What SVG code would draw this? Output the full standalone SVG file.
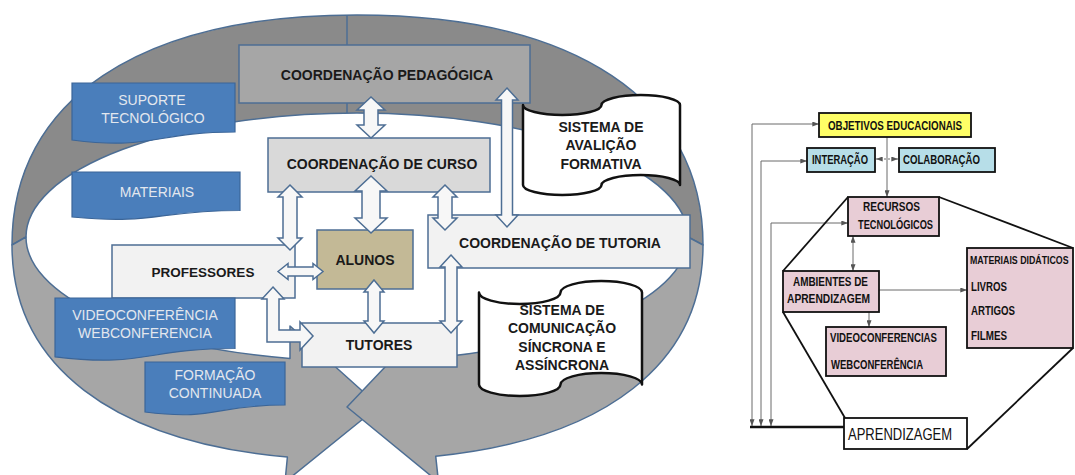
<svg xmlns="http://www.w3.org/2000/svg" width="1075" height="475" viewBox="0 0 1075 475">
<defs>
<style>
.band{stroke:#4d6e94;stroke-width:1.5;stroke-linejoin:round}
.dark{fill:#8a8a8a}
.light{fill:#a6a6a6}
.box{stroke:#4d6e94;stroke-width:1.5}
.blue{fill:#4a7ebb;stroke:#3b6598;stroke-width:1.2}
.doc{fill:#fff;stroke:#111;stroke-width:2.5;stroke-linejoin:round}
.blk{fill:#f7f7f7;stroke:#4d6e94;stroke-width:1.5}
.t{font-family:"Liberation Sans",Arial,sans-serif;font-weight:bold;font-size:14px;fill:#1a1a1a;text-anchor:middle}
.tb{font-family:"Liberation Sans",Arial,sans-serif;font-size:14px;fill:#e3e7ee;text-anchor:middle}
.r{font-family:"Liberation Sans",Arial,sans-serif;font-weight:bold;font-size:12px;fill:#111}
.rbox{stroke:#111;stroke-width:1.8}
.pink{fill:#e8cdd6}
.ln{fill:none;stroke:#6a6a6a;stroke-width:1}
.oct{fill:none;stroke:#111;stroke-width:1.8}
</style>
<marker id="ah" viewBox="0 0 8 6" refX="8" refY="3" markerWidth="7" markerHeight="5" markerUnits="userSpaceOnUse" orient="auto-start-reverse"><path d="M0,0 L8,3 L0,6 z" fill="#555"/></marker>
</defs>
<rect width="1075" height="475" fill="#fff"/>

<!-- Left diagram: cycle arrows -->
<g id="cycle">
<path class="band dark" d="M12,245 C12,100 139.6,15 357,15 C575,15 703,100 703,245 L688,237 A331,124 0 0 0 357,113 A331,124 0 0 0 26,237 Z"/>
<path class="band light" d="M12,245 C12,365.3 112.6,441.5 287.4,457 L285,482 L379,406 L290,326 L290,358.4 A331,124 0 0 1 26,237 Z"/>
<path class="band light" d="M703,245 C703,363.3 605.5,438.9 435.7,456.2 L438.5,482 L347,407 L424,326 L424,358.4 A331,124 0 0 0 688,237 Z"/>
<line x1="347" y1="15" x2="347" y2="113" stroke="#4d6e94" stroke-width="1.5"/>
</g>

<g id="coord-pedagogica">
<rect class="box" x="239" y="45" width="291" height="58" fill="#a6a6a6"/>
<text class="t" x="387" y="80">COORDENAÇÃO PEDAGÓGICA</text>
</g>
<g id="coord-curso">
<rect class="box" x="268" y="138" width="222" height="54" fill="#d9d9d9"/>
<text class="t" x="382" y="169">COORDENAÇÃO DE CURSO</text>
</g>
<g id="professores">
<rect class="box" x="112" y="245" width="183" height="53" fill="#f2f2f2"/>
<text class="t" x="203" y="277" style="font-size:13.5px">PROFESSORES</text>
</g>
<g id="alunos">
<rect class="box" x="317" y="230" width="96" height="59" fill="#c3b996"/>
<text class="t" x="365" y="265">ALUNOS</text>
</g>
<g id="coord-tutoria">
<rect class="box" x="428" y="215" width="262" height="53" fill="#f2f2f2"/>
<text class="t" x="560" y="248">COORDENAÇÃO DE TUTORIA</text>
</g>
<g id="tutores">
<rect class="box" x="302" y="323" width="155" height="44" fill="#f2f2f2"/>
<text class="t" x="379" y="350">TUTORES</text>
</g>

<g id="suporte">
<path class="blue" d="M72,83 H235 V132 C153.5,132 153.5,150.5 72,140 Z"/>
<text class="tb" x="152" y="105">SUPORTE</text>
<text class="tb" x="153" y="123">TECNOLÓGICO</text>
</g>
<g id="materiais">
<path class="blue" d="M72,172 H240 V210.5 C156,210.5 156,225 72,217 Z"/>
<text class="tb" x="157" y="197">MATERIAIS</text>
</g>
<g id="videoconferencia">
<path class="blue" d="M55,298 H235 V348.5 C145,348.5 145,367.7 55,356.8 Z"/>
<text class="tb" x="145" y="320">VIDEOCONFERÊNCIA</text>
<text class="tb" x="145" y="338">WEBCONFERENCIA</text>
</g>
<g id="formacao">
<path class="blue" d="M145,362 H285 V405 C215,405 215,421 145,412 Z"/>
<text class="tb" x="215" y="380">FORMAÇÃO</text>
<text class="tb" x="215" y="398">CONTINUADA</text>
</g>

<g id="sistema-avaliacao">
<path class="doc" d="M523,105 A39.25,10 0 0 0 601.5,105 A39.25,10 0 0 1 680,105 L680,185 A39.25,10 0 0 0 601.5,185 A39.25,10 0 0 1 523,185 Z"/>
<text class="t" x="601" y="132">SISTEMA DE</text>
<text class="t" x="601" y="150">AVALIÇÃO</text>
<text class="t" x="601" y="169">FORMATIVA</text>
</g>
<g id="sistema-comunicacao">
<path class="doc" d="M479,292.5 A40.75,11.5 0 0 0 560.5,292.5 A40.75,11.5 0 0 1 642,292.5 L642,384.5 A40.75,11.5 0 0 0 560.5,384.5 A40.75,11.5 0 0 1 479,384.5 Z"/>
<text class="t" x="562" y="315">SISTEMA DE</text>
<text class="t" x="562" y="333">COMUNICAÇÃO</text>
<text class="t" x="562" y="352">SÍNCRONA E</text>
<text class="t" x="562" y="370">ASSÍNCRONA</text>
</g>

<g id="connectors-left">
<polygon class="blk" points="371,97 385,110 378,110 378,125 385,125 371,138 357,125 364,125 364,110 357,110"/>
<polygon class="blk" points="371,176 387,191 380,191 380,218 387,218 371,233 355,218 362,218 362,191 355,191"/>
<polygon class="blk" points="290,185 302,197 297,197 297,238 302,238 290,250 278,238 283,238 283,197 278,197"/>
<polygon class="blk" points="445,185 457,197 452,197 452,218 457,218 445,230 433,218 438,218 438,197 433,197"/>
<polygon class="blk" points="507,88 518,100 512.5,100 512.5,215 518,215 507,227 496,215 501.5,215 501.5,100 496,100"/>
<polygon class="blk" points="278,271.5 288,263.5 288,267 313,267 313,263.5 323,271.5 313,279.5 313,276 288,276 288,279.5"/>
<polygon class="blk" points="374,280 384,292 380,292 380,321 384,321 374,333 364,321 368,321 368,292 364,292"/>
<polygon class="blk" points="451,255 462,267 457,267 457,321 462,321 451,333 440,321 445,321 445,267 440,267"/>
<polygon class="blk" points="273,287 284,299 279,299 279,330 300,330 300,322 313,336 300,350 300,342 267,342 267,299 262,299"/>
</g>

<!-- Right diagram -->
<g id="connectors-right">
<polyline class="ln" points="752,426 752,124 819,124" marker-start="url(#ah)" marker-end="url(#ah)"/>
<polyline class="ln" points="761,426 761,161 807,161" marker-start="url(#ah)" marker-end="url(#ah)"/>
<polyline class="ln" points="771,426 771,223 848,223" marker-start="url(#ah)" marker-end="url(#ah)"/>
<line x1="750" y1="427" x2="844" y2="427" stroke="#111" stroke-width="2.5"/>
<line class="ln" x1="887" y1="137" x2="887" y2="197" marker-end="url(#ah)"/>
<line class="ln" x1="876" y1="159" x2="898" y2="159" stroke-dasharray="2,2" marker-start="url(#ah)" marker-end="url(#ah)"/>
<line class="ln" x1="853" y1="236" x2="853" y2="271" marker-start="url(#ah)" marker-end="url(#ah)"/>
<line class="ln" x1="869" y1="312" x2="869" y2="327" marker-end="url(#ah)"/>
<line class="ln" x1="879" y1="290" x2="967" y2="290" marker-end="url(#ah)"/>
<line class="oct" x1="848" y1="197" x2="783" y2="271"/>
<line class="oct" x1="939" y1="197" x2="1073" y2="248"/>
<line class="oct" x1="783" y1="312" x2="845" y2="418"/>
<line class="oct" x1="1073" y1="348" x2="967" y2="449"/>
</g>

<g id="objetivos">
<rect class="rbox" x="819" y="113" width="152" height="24" fill="#ffff66"/>
<text class="r" x="828" y="130" textLength="134" lengthAdjust="spacingAndGlyphs">OBJETIVOS EDUCACIONAIS</text>
</g>
<g id="interacao">
<rect class="rbox" x="807" y="148" width="68" height="24" fill="#b7dee8"/>
<text class="r" x="812" y="164" textLength="56" lengthAdjust="spacingAndGlyphs">INTERAÇÃO</text>
</g>
<g id="colaboracao">
<rect class="rbox" x="899" y="148" width="96" height="24" fill="#b7dee8"/>
<text class="r" x="903" y="164" textLength="77" lengthAdjust="spacingAndGlyphs">COLABORAÇÃO</text>
</g>
<g id="recursos">
<rect class="rbox pink" x="848" y="197" width="91" height="39"/>
<text class="r" x="863" y="211" textLength="57" lengthAdjust="spacingAndGlyphs">RECURSOS</text>
<text class="r" x="858" y="229" textLength="75" lengthAdjust="spacingAndGlyphs">TECNOLÓGICOS</text>
</g>
<g id="ambientes">
<rect class="rbox pink" x="783" y="271" width="96" height="41"/>
<text class="r" x="793" y="286" textLength="75" lengthAdjust="spacingAndGlyphs">AMBIENTES DE</text>
<text class="r" x="787" y="303" textLength="83" lengthAdjust="spacingAndGlyphs">APRENDIZAGEM</text>
</g>
<g id="materiais-didaticos">
<rect class="rbox pink" x="967" y="248" width="106" height="100"/>
<text class="r" transform="translate(970,264) scale(0.8,1)" x="0" y="0" style="font-size:11px">MATERIAIS DIDÁTICOS</text>
<text class="r" x="971" y="291" textLength="36" lengthAdjust="spacingAndGlyphs">LIVROS</text>
<text class="r" x="971" y="315" textLength="44" lengthAdjust="spacingAndGlyphs">ARTIGOS</text>
<text class="r" x="971" y="340" textLength="36" lengthAdjust="spacingAndGlyphs">FILMES</text>
</g>
<g id="videoconferencias">
<rect class="rbox pink" x="826" y="327" width="120" height="49"/>
<text class="r" x="830" y="342" textLength="107" lengthAdjust="spacingAndGlyphs">VIDEOCONFERENCIAS</text>
<text class="r" x="831" y="369" textLength="92" lengthAdjust="spacingAndGlyphs">WEBCONFERÊNCIA</text>
</g>
<g id="aprendizagem">
<rect class="rbox" x="844" y="418" width="123" height="31" fill="#fff"/>
<text x="848" y="440" textLength="104" lengthAdjust="spacingAndGlyphs" style="font-family:'Liberation Sans',Arial,sans-serif;font-size:17px;fill:#111">APRENDIZAGEM</text>
</g>
</svg>
